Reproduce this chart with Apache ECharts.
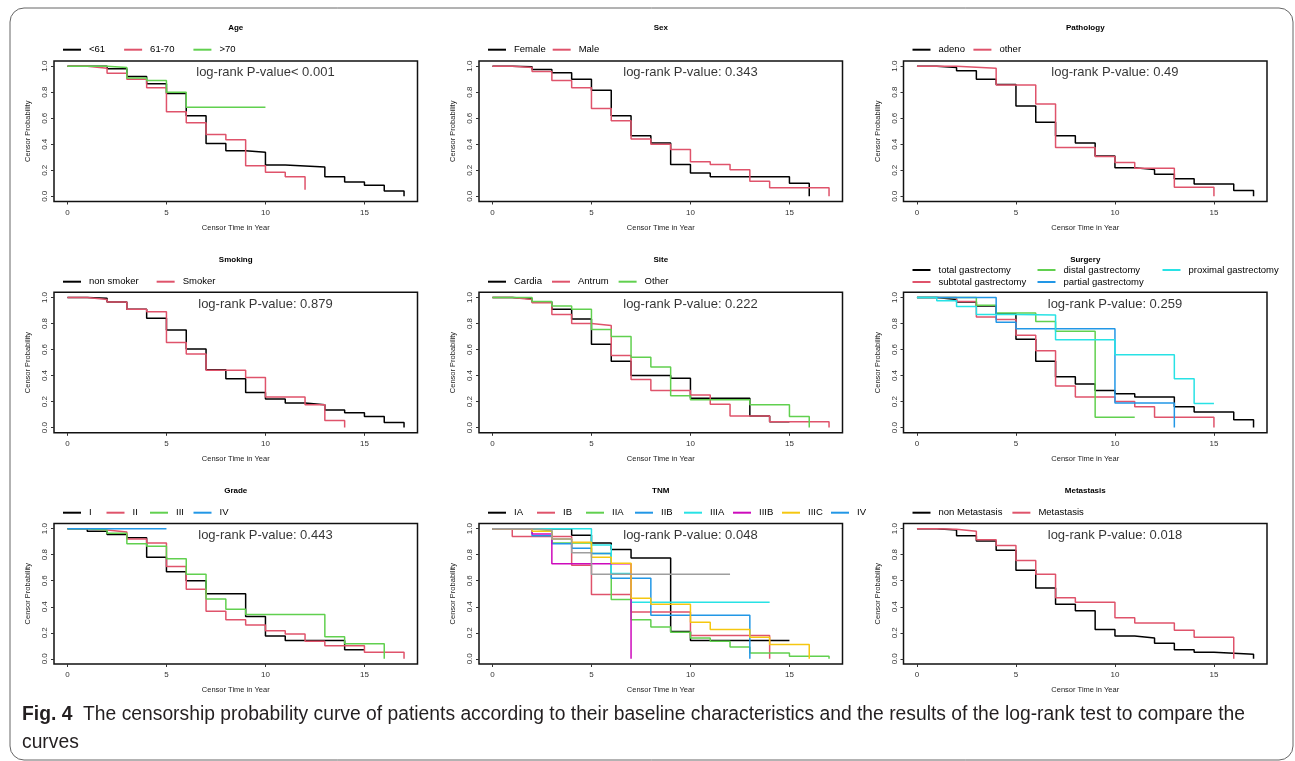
<!DOCTYPE html>
<html>
<head>
<meta charset="utf-8">
<script src="https://cdn.jsdelivr.net/npm/echarts@6/dist/echarts.min.js"></script>
<style>
  html, body { margin: 0; padding: 0; background: #fff; }
  #chart { width: 1295px; height: 761px; }
</style>
</head>
<body>
<div id="chart"></div>
<script>
// R default palette
var colors = ['#000000', '#DF536B', '#61D04F', '#2297E6', '#28E2E5', '#CD0BBC', '#F5C710', '#9E9E9E'];
var xTicks = [0, 5, 10, 15];
var yTicks = [0, 0.2, 0.4, 0.6, 0.8, 1.0];

// each point: [time of drop, new probability]
// Age
var ageLt61 = [[0,1],[2,0.98],[3,0.92],[4,0.865],[5,0.79],[6,0.62],[7,0.405],[8,0.35],[9,0.338],[10,0.24],[11,0.225],[13,0.15],[14,0.11],[15,0.085],[16,0.04],[17,0]];
var age6170 = [[0,1],[1,0.985],[2,0.945],[3,0.90],[4,0.835],[5,0.65],[6,0.565],[7,0.475],[8,0.435],[9,0.235],[10,0.185],[11,0.15],[12,0.05]];
var ageGt70 = [[0,1],[2,0.99],[3,0.91],[4,0.89],[5,0.80],[6,0.685],[10,0.685]];
// Sex
var sexFemale = [[0,1],[1,0.995],[2,0.975],[3,0.95],[4,0.90],[5,0.815],[6,0.62],[7,0.465],[8,0.41],[9,0.245],[10,0.18],[11,0.15],[15,0.10],[16,0]];
var sexMale = [[0,1],[1,0.99],[2,0.96],[3,0.89],[4,0.835],[5,0.675],[6,0.58],[7,0.44],[8,0.40],[9,0.36],[10,0.265],[11,0.245],[12,0.205],[13,0.115],[14,0.065],[17,0]];
// Pathology
var pathAdeno = [[0,1],[1,0.99],[2,0.965],[3,0.90],[4,0.86],[5,0.695],[6,0.57],[7,0.465],[8,0.41],[9,0.31],[10,0.22],[11,0.205],[12,0.17],[13,0.135],[14,0.095],[16,0.045],[17,0]];
var pathOther = [[0,1],[2,0.985],[4,0.855],[6,0.71],[7,0.375],[9,0.305],[10,0.26],[11,0.215],[13,0.07],[15,0]];
// Smoking
var smokeNon = [[0,1],[1,0.995],[2,0.965],[3,0.91],[4,0.84],[5,0.75],[6,0.605],[7,0.445],[8,0.375],[9,0.27],[10,0.22],[11,0.19],[12,0.175],[13,0.135],[14,0.115],[15,0.085],[16,0.04],[17,0]];
var smokeYes = [[0,1],[1,0.985],[2,0.965],[3,0.91],[4,0.89],[5,0.655],[6,0.565],[7,0.44],[9,0.385],[10,0.235],[12,0.175],[13,0.055],[14,0]];
// Site
var siteCardia = [[0,1],[1,0.99],[2,0.965],[3,0.91],[4,0.835],[5,0.64],[6,0.51],[7,0.40],[9,0.38],[10,0.225],[13,0.09],[14,0.045],[15,0.045]];
var siteAntrum = [[0,1],[1,0.985],[2,0.96],[3,0.87],[4,0.80],[5,0.785],[6,0.555],[7,0.37],[8,0.285],[10,0.25],[11,0.18],[12,0.09],[14,0.045],[17,0]];
var siteOther = [[0,1],[2,0.97],[3,0.935],[4,0.91],[5,0.755],[6,0.70],[7,0.54],[8,0.465],[9,0.245],[10,0.215],[13,0.175],[15,0.085],[16,0]];
// Surgery
var surgTotal = [[0,1],[1,0.985],[2,0.965],[3,0.935],[4,0.875],[5,0.68],[6,0.51],[7,0.39],[8,0.335],[9,0.285],[10,0.26],[11,0.235],[13,0.16],[14,0.12],[16,0.06],[17,0]];
var surgSubtotal = [[0,1],[2,0.97],[3,0.85],[4,0.83],[5,0.71],[6,0.59],[7,0.32],[8,0.235],[10,0.20],[11,0.16],[12,0.08],[15,0]];
var surgDistal = [[0,1],[3,0.94],[4,0.88],[6,0.815],[7,0.74],[9,0.08],[11,0.08]];
var surgPartial = [[0,1],[4,0.81],[5,0.76],[10,0.19],[13,0]];
var surgProximal = [[0,1],[1,0.975],[2,0.93],[3,0.87],[5,0.865],[7,0.675],[10,0.56],[13,0.375],[14,0.185],[15,0.185]];
// Grade
var gradeI = [[0,1],[1,0.98],[2,0.955],[3,0.93],[4,0.78],[5,0.67],[6,0.60],[7,0.50],[9,0.325],[10,0.175],[11,0.14],[14,0.07],[15,0.07]];
var gradeII = [[0,1],[1,0.99],[2,0.975],[3,0.92],[4,0.89],[5,0.71],[6,0.535],[7,0.365],[8,0.30],[9,0.26],[10,0.215],[11,0.19],[12,0.135],[13,0.10],[15,0.05],[17,0]];
var gradeIII = [[0,1],[1,0.99],[2,0.965],[3,0.885],[4,0.865],[5,0.77],[6,0.65],[7,0.46],[8,0.38],[9,0.34],[13,0.17],[14,0.115],[16,0]];
var gradeIV = [[0,1],[5,1]];
// TNM
var tnmIA = [[0,1],[4,0.95],[5,0.89],[6,0.84],[7,0.775],[9,0.21],[10,0.14],[15,0.14]];
var tnmIB = [[0,1],[1,0.94],[4,0.72],[5,0.495],[7,0.36],[10,0.18],[14,0]];
var tnmIIA = [[0,1],[2,0.985],[3,0.89],[5,0.81],[6,0.455],[7,0.30],[8,0.245],[9,0.205],[10,0.16],[11,0.135],[12,0.09],[13,0.045],[15,0.02],[17,0]];
var tnmIIB = [[0,1],[2,0.945],[3,0.885],[4,0.85],[5,0.81],[6,0.62],[8,0.335],[13,0]];
var tnmIIIA = [[0,1],[5,0.875],[6,0.655],[7,0.435],[14,0.435]];
var tnmIIIB = [[0,1],[2,0.96],[3,0.73],[7,0]];
var tnmIIIC = [[0,1],[2,0.98],[3,0.92],[4,0.895],[5,0.78],[6,0.735],[7,0.465],[8,0.42],[10,0.28],[11,0.225],[13,0.165],[14,0.11],[16,0]];
var tnmIV = [[0,1],[2,0.99],[3,0.92],[4,0.815],[5,0.65],[12,0.65]];
// Metastasis
var metNon = [[0,1],[1,0.99],[2,0.945],[3,0.905],[4,0.835],[5,0.68],[6,0.545],[7,0.42],[8,0.37],[9,0.225],[10,0.175],[11,0.16],[12,0.12],[13,0.07],[14,0.05],[15,0.035],[17,0]];
var metYes = [[0,1],[1,0.995],[2,0.98],[3,0.915],[4,0.87],[5,0.755],[6,0.65],[7,0.47],[8,0.435],[10,0.315],[11,0.275],[13,0.22],[14,0.165],[16,0]];

var panels = [
  {title: 'Age', pval: 'log-rank P-value< 0.001', names: ['<61', '61-70', '>70'], curves: [ageLt61, age6170, ageGt70], gap: 19},
  {title: 'Sex', pval: 'log-rank P-value: 0.343', names: ['Female', 'Male'], curves: [sexFemale, sexMale], gap: 7},
  {title: 'Pathology', pval: 'log-rank P-value: 0.49', names: ['adeno', 'other'], curves: [pathAdeno, pathOther], gap: 8.5},
  {title: 'Smoking', pval: 'log-rank P-value: 0.879', names: ['non smoker', 'Smoker'], curves: [smokeNon, smokeYes], gap: 18},
  {title: 'Site', pval: 'log-rank P-value: 0.222', names: ['Cardia', 'Antrum', 'Other'], curves: [siteCardia, siteAntrum, siteOther], gap: 10},
  {title: 'Surgery', pval: 'log-rank P-value: 0.259', names: ['total gastrectomy', 'subtotal gastrectomy', 'distal gastrectomy', 'partial gastrectomy', 'proximal gastrectomy'],
    curves: [surgTotal, surgSubtotal, surgDistal, surgPartial, surgProximal]},
  {title: 'Grade', pval: 'log-rank P-value: 0.443', names: ['I', 'II', 'III', 'IV'], curves: [gradeI, gradeII, gradeIII, gradeIV], gap: 5.5, textW: 12},
  {title: 'TNM', pval: 'log-rank P-value: 0.048', names: ['IA', 'IB', 'IIA', 'IIB', 'IIIA', 'IIIB', 'IIIC', 'IV'],
    curves: [tnmIA, tnmIB, tnmIIA, tnmIIB, tnmIIIA, tnmIIIB, tnmIIIC, tnmIV], gap: 6, textW: 17},
  {title: 'Metastasis', pval: 'log-rank P-value: 0.018', names: ['non Metastasis', 'Metastasis'], curves: [metNon, metYes], gap: 10}
];

var font = '"Liberation Sans", Arial, sans-serif';
var capFont = '"Liberation Sans", Arial, sans-serif';
var colLeft = [54, 479, 903.5];
var colW = 363.5;
var rowTop = [61, 292.3, 523.5];
var rowH = 140.5;
var titleY = [28, 259.5, 491];
var legendY = [49.7, 281.7, 512.7];

var grids = [], xAxes = [], yAxes = [], series = [], legends = [], graphics = [];

function legendBase(names, left, centerY, gap, textW) {
  var ts = {fontSize: 9.5, color: '#000', fontFamily: font, padding: [0, 0, 0, 3], lineHeight: 11};
  if (textW) ts.width = textW;
  return {
    data: names, left: left, top: centerY - 5.5, orient: 'horizontal',
    icon: 'rect', itemWidth: 18, itemHeight: 2, itemGap: gap, padding: 0,
    selectedMode: false, textStyle: ts
  };
}

panels.forEach(function (p, i) {
  var col = i % 3, row = Math.floor(i / 3);
  grids.push({
    left: colLeft[col], top: rowTop[row], width: colW, height: rowH,
    show: true, borderColor: '#111', borderWidth: 1.5, backgroundColor: 'transparent'
  });
  xAxes.push({
    gridIndex: i, type: 'value', min: -0.68, max: 17.68,
    axisLine: {show: false, onZero: false},
    axisTick: {show: true, customValues: xTicks, length: 3, lineStyle: {color: '#333'}},
    axisLabel: {customValues: xTicks, fontSize: 8, color: '#333', margin: 7, fontFamily: font},
    splitLine: {show: false},
    name: 'Censor Time in Year', nameLocation: 'middle', nameGap: 22,
    nameTextStyle: {fontSize: 7.5, color: '#222', fontFamily: font}
  });
  yAxes.push({
    gridIndex: i, type: 'value', min: -0.04, max: 1.04,
    axisLine: {show: false, onZero: false},
    axisTick: {show: true, customValues: yTicks, length: 3, lineStyle: {color: '#333'}},
    axisLabel: {customValues: yTicks, fontSize: 8, color: '#333', margin: 5, rotate: 90, fontFamily: font,
      formatter: function (v) { return v.toFixed(1); }},
    splitLine: {show: false},
    name: 'Censor Probability', nameLocation: 'middle', nameGap: 22, nameRotate: 90,
    nameTextStyle: {fontSize: 7.5, color: '#222', fontFamily: font}
  });
  p.curves.forEach(function (c, k) {
    series.push({
      name: p.names[k], type: 'line', step: 'end', xAxisIndex: i, yAxisIndex: i,
      data: c, symbol: 'none', silent: true,
      itemStyle: {color: colors[k]},
      lineStyle: {color: colors[k], width: 1.5}
    });
  });
  series.push({
    type: 'scatter', xAxisIndex: i, yAxisIndex: i, data: [[10, 0.95]],
    symbolSize: 1, itemStyle: {color: 'rgba(0,0,0,0)'}, silent: true,
    label: {show: true, position: 'inside', formatter: p.pval, fontSize: 13, color: '#000', fontFamily: font}
  });
  graphics.push({
    type: 'text', x: colLeft[col] + colW / 2, y: titleY[row],
    style: {text: p.title, font: 'bold 8px ' + font, fill: '#000', align: 'center', verticalAlign: 'middle'}
  });
  var lineLeft = colLeft[col] + 9;
  if (p.title === 'Surgery') {
    // R fills the legend column by column: two rows here
    legends.push(legendBase([p.names[0], p.names[2], p.names[4]], lineLeft, 270, 9, 90));
    legends.push(legendBase([p.names[1], p.names[3]], lineLeft, 282, 9, 90));
  } else {
    legends.push(legendBase(p.names, lineLeft, legendY[row], p.gap, p.textW));
  }
});

// caption: squeeze horizontally to the condensed width of the original
var capBold = 'Fig. 4';
var capText = '  The censorship probability curve of patients according to their baseline characteristics and the results of the log-rank test to compare the';
var ctx = document.createElement('canvas').getContext('2d');
ctx.font = 'bold 20px ' + capFont;
var wBold = ctx.measureText(capBold).width;
ctx.font = '20px ' + capFont;
var wText = ctx.measureText(capText).width;
var capScale = 1223 / (wBold + wText);

graphics.push({
  type: 'rect', shape: {x: 10, y: 8, width: 1283, height: 752, r: 14}, silent: true,
  style: {fill: 'none', stroke: '#666', lineWidth: 1}
});
graphics.push({
  type: 'text', x: 22, y: 714, scaleX: capScale,
  style: {
    text: '{b|' + capBold + '}' + capText,
    font: '20px ' + capFont, fill: '#231f20', verticalAlign: 'middle',
    rich: {b: {fontWeight: 'bold', fontSize: 20, fontFamily: capFont, fill: '#231f20'}}
  }
});
graphics.push({
  type: 'text', x: 22, y: 742, scaleX: capScale,
  style: {text: 'curves', font: '20px ' + capFont, fill: '#231f20', verticalAlign: 'middle'}
});

var myChart = echarts.init(document.getElementById('chart'));
var option = {
  animation: false,
  backgroundColor: '#fff',
  grid: grids,
  xAxis: xAxes,
  yAxis: yAxes,
  legend: legends,
  series: series,
  graphic: graphics
};
myChart.setOption(option);
</script>
</body>
</html>
